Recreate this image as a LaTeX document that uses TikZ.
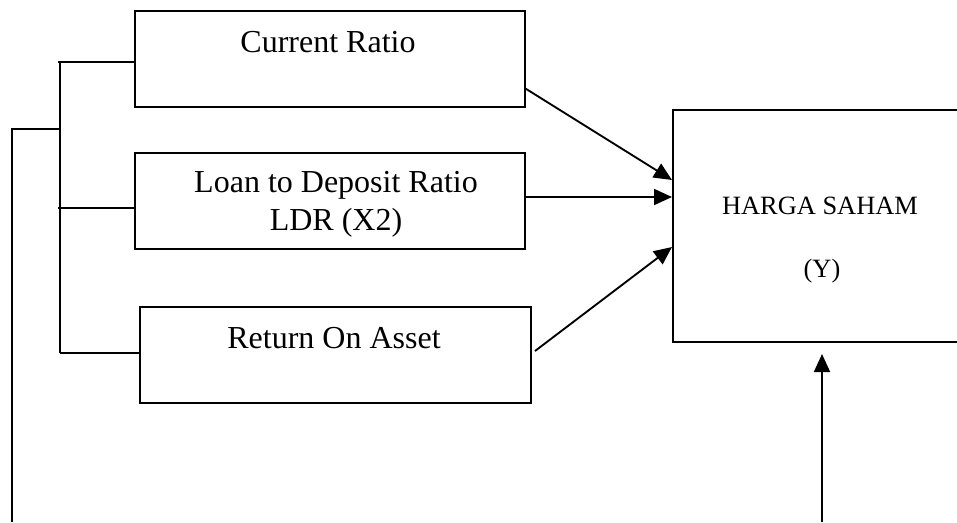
\documentclass[tikz,border=0pt]{standalone}
\usepackage{fontspec}
\setmainfont{Liberation Serif}
\usetikzlibrary{arrows.meta,calc,fit}
\begin{document}
\begin{tikzpicture}[x=0.75pt,y=-0.75pt,
  boxstyle/.style={draw,line width=1.5pt,inner sep=0pt,fit={#1}},
  lbl/.style={anchor=base,inner sep=0pt,font=\fontsize{24}{28.5}\selectfont},
  lblsmall/.style={anchor=base,inner sep=0pt,font=\fontsize{19.8}{23}\selectfont},
  conn/.style={line width=1.4pt},
  arr/.style={line width=1.4pt,-{Triangle[length=13.5pt,width=12pt]}}]
\useasboundingbox (0,0) rectangle (957,522);
\clip (0,0) rectangle (957,522);
% boxes
\node[boxstyle={(135,10.7) (525,107)}] (b1) {};
\node[boxstyle={(135,153) (525,249)}] (b2) {};
\node[boxstyle={(140,307) (531,403)}] (b3) {};
\node[boxstyle={(673,110) (967,342)}] (h) {};
% texts
\node[lbl] (t1) at (328,52) {Current Ratio};
\node[lbl] (t2a) at (336,192) {Loan to Deposit Ratio};
\node[lbl] (t2b) at (336,230) {LDR (X2)};
\node[lbl] (t3) at (334,348) {Return On Asset};
\node[lblsmall] (t4) at (820,214) {HARGA SAHAM};
\node[lblsmall] (t5) at (822,277) {(Y)};
% bracket
\coordinate (br1) at (58,62);
\coordinate (br2) at (58,208);
\coordinate (br3) at (60,353);
\coordinate (lt) at (10,129);
\coordinate (lb) at (12,522);
\coordinate (ub) at (822,522);
\draw[conn] (60,62) -- (br3);
\draw[conn] (br1) -- (br1 -| b1.west);
\draw[conn] (br2) -- (br2 -| b2.west);
\draw[conn] (br3) -- (br3 -| b3.west);
\draw[conn] (lb) -- (lb |- lt) -- (60,129);
% arrows
\draw[arr] ($(b1.east)+(0,30)$) -- ($(h.west)+(0,-46)$);
\draw[arr] ($(b2.east)+(0,-4)$) -- ($(h.west)+(0,-29)$);
\draw[arr] ($(b3.east)+(3,-4)$) -- ($(h.west)+(0,21)$);
\draw[arr] (ub) -- ($(ub |- h.south)+(0,11)$);
\end{tikzpicture}
\end{document}
